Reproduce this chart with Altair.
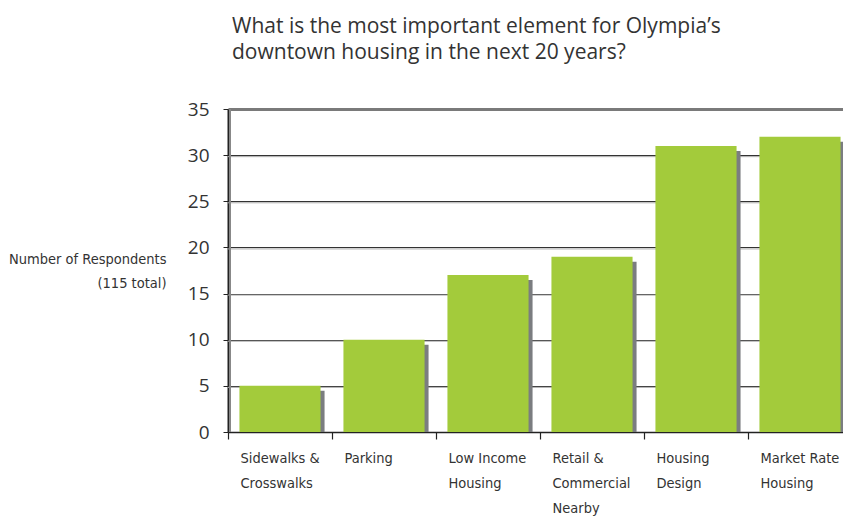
import altair as alt
import pandas as pd

categories = ["Sidewalks &\nCrosswalks", "Parking", "Low Income\nHousing",
              "Retail &\nCommercial\nNearby", "Housing\nDesign", "Market Rate\nHousing"]
respondents = [5, 10, 17, 19, 31, 32]
grid_values = [5, 10, 15, 20, 25, 30]
y_ticks = [0, 5, 10, 15, 20, 25, 30, 35]

df = pd.DataFrame({"category": categories, "count": respondents, "zero": [0] * len(categories)})
gdf = pd.DataFrame({"v": grid_values})

TITLE_FONT = "Open Sans"
COND = "Liberation Sans Narrow, DejaVu Sans Condensed, sans-serif"
GREEN = "#a3cb3b"
SHADOW = "#7b7d80"

x_enc = alt.X("category:N", sort=categories,
              scale=alt.Scale(range=[0, 624], paddingInner=0, paddingOuter=0),
              axis=alt.Axis(title=None, labelAngle=0, tickBand="extent",
                            labelAlign="left", labelBaseline="top", labelOffset=-40,
                            labelPadding=12, labelFont=COND, labelFontSize=14.5,
                            labelColor="#333", labelLineHeight=25,
                            labelExpr="split(datum.label, '\\n')",
                            tickSize=7, tickColor="#222", tickWidth=1.2,
                            domainColor="#222", domainWidth=1.5, grid=False,
                            labelLimit=200))

y_scale = alt.Scale(domain=[0, 35], nice=False)

BAR_W = alt.RelativeBandSize(0.78)

shadow = alt.Chart(df).mark_bar(color=SHADOW, xOffset=4, yOffset=5, y2Offset=0, width=BAR_W).encode(
    x=x_enc,
    y=alt.Y("count:Q", scale=y_scale,
            axis=alt.Axis(values=y_ticks, title=["Number of Respondents", "(115 total)"],
                          titleAngle=0, titleAlign="right", titleBaseline="top",
                          titleX=-62, titleY=143, titleFont=COND, titleFontSize=14.5,
                          titleFontWeight="normal", titleColor="#333", titleLineHeight=24,
                          labelFont=TITLE_FONT, labelFontSize=19, labelColor="#333",
                          labelPadding=14, tickSize=5, tickColor="#222",
                          domainColor="#222", domainWidth=2,
                          gridColor={"condition": {"test": "datum.value == 35", "value": "#7a7a7a"}, "value": "#333"},
                          gridWidth={"condition": {"test": "datum.value == 35", "value": 3}, "value": 1})),
    y2=alt.Y2("zero:Q"),
)

grid_shadow = alt.Chart(gdf).mark_rule(color="#aaa", strokeWidth=1, yOffset=1.5).encode(
    y=alt.Y("v:Q", scale=y_scale)
)

axis_shadow = alt.Chart(gdf).mark_rule(color="#888", strokeWidth=2).encode(
    x=alt.value(2), y=alt.value(0), y2=alt.value(323)
)

bars = alt.Chart(df).mark_bar(color=GREEN, width=BAR_W).encode(
    x=x_enc,
    y=alt.Y("count:Q", scale=y_scale),
)

chart = alt.layer(grid_shadow, axis_shadow, shadow, bars).properties(
    width=615, height=323,
    autosize=alt.AutoSizeParams(type="none"),
    padding={"left": 228, "top": 109, "right": 0, "bottom": 90},
    title=alt.TitleParams(
        text=["What is the most important element for Olympia\u2019s",
              "downtown housing in the next 20 years?"],
        anchor="start", frame="group", dx=4, offset=37, baseline="top",
        font=TITLE_FONT, fontSize=21, fontWeight="normal", color="#333",
        lineHeight=26),
).configure_view(stroke=None)

chart.save("out.html", embed_options={"renderer": "svg", "actions": False})
